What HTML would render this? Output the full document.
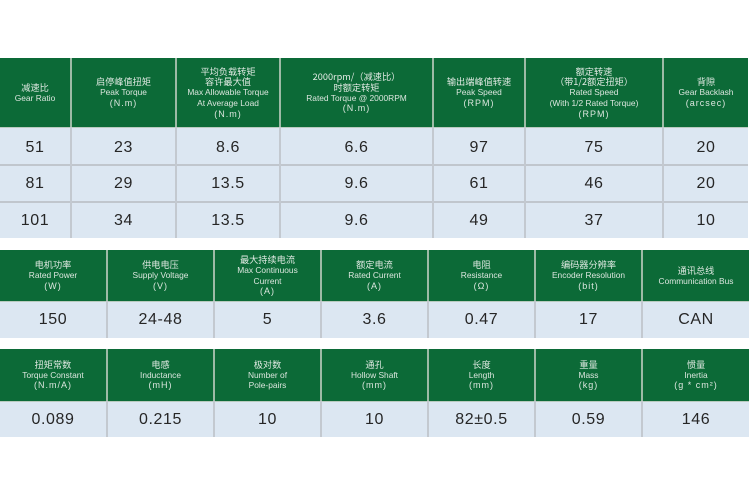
<!DOCTYPE html>
<html><head><meta charset="utf-8">
<style>
html,body{margin:0;padding:0;background:#fff;}
body{width:750px;height:500px;position:relative;overflow:hidden;font-family:"Liberation Sans","Noto Sans CJK SC",sans-serif;}
.g{position:absolute;background:#0c6a37;}
.b{position:absolute;background:#dce7f2;}
.vh{position:absolute;width:2px;background:#9dbba6;}
.vd{position:absolute;width:2px;background:#c3c9d0;}
.hd{position:absolute;height:1px;background:#c0c6cd;}
.h{position:absolute;display:flex;flex-direction:column;justify-content:center;align-items:center;text-align:center;color:#e4ede6;}
.h div{height:10.7px;line-height:10.7px;white-space:nowrap;overflow:visible;}
.h .c{font-size:9.2px;font-family:"Noto Sans CJK SC","WenQuanYi Zen Hei",sans-serif;color:#dfe9e2;}
.h .e{font-size:8.4px;color:#dbe6de;}
.h .u{font-size:9px;letter-spacing:1px;color:#dbe6de;}
.d{position:absolute;display:flex;justify-content:center;align-items:center;font-size:16px;letter-spacing:0.6px;color:#262626;}
</style></head><body>

<!-- TABLE 1 -->
<div class="g" style="left:0;top:58px;width:748px;height:69px"></div>
<div class="b" style="left:0;top:127px;width:748px;height:111px"></div>
<div class="hd" style="left:0;top:127px;width:748px;background:#b9cbbf"></div>
<div class="hd" style="left:0;top:164px;width:748px;height:2px"></div>
<div class="hd" style="left:0;top:201px;width:748px;height:2px"></div>
<div class="vh" style="left:70px;top:58px;height:69px"></div>
<div class="vh" style="left:175px;top:58px;height:69px"></div>
<div class="vh" style="left:279px;top:58px;height:69px"></div>
<div class="vh" style="left:432px;top:58px;height:69px"></div>
<div class="vh" style="left:524px;top:58px;height:69px"></div>
<div class="vh" style="left:662px;top:58px;height:69px"></div>
<div class="vd" style="left:70px;top:127px;height:111px"></div>
<div class="vd" style="left:175px;top:127px;height:111px"></div>
<div class="vd" style="left:279px;top:127px;height:111px"></div>
<div class="vd" style="left:432px;top:127px;height:111px"></div>
<div class="vd" style="left:524px;top:127px;height:111px"></div>
<div class="vd" style="left:662px;top:127px;height:111px"></div>

<div class="h" style="left:0;top:58px;width:70px;height:69px"><div class="c">减速比</div><div class="e">Gear Ratio</div></div>
<div class="h" style="left:72px;top:58px;width:103px;height:69px"><div class="c">启停峰值扭矩</div><div class="e">Peak Torque</div><div class="u">(N.m)</div></div>
<div class="h" style="left:177px;top:58px;width:102px;height:69px"><div class="c">平均负载转矩</div><div class="c">容许最大值</div><div class="e">Max Allowable Torque</div><div class="e">At Average Load</div><div class="u">(N.m)</div></div>
<div class="h" style="left:281px;top:58px;width:151px;height:69px"><div class="c">2000rpm/（减速比）</div><div class="c">时额定转矩</div><div class="e">Rated Torque @ 2000RPM</div><div class="u">(N.m)</div></div>
<div class="h" style="left:434px;top:58px;width:90px;height:69px"><div class="c">输出端峰值转速</div><div class="e">Peak Speed</div><div class="u">(RPM)</div></div>
<div class="h" style="left:526px;top:58px;width:136px;height:69px"><div class="c">额定转速</div><div class="c">（带1/2额定扭矩）</div><div class="e">Rated Speed</div><div class="e">(With 1/2 Rated Torque)</div><div class="u">(RPM)</div></div>
<div class="h" style="left:664px;top:58px;width:84px;height:69px"><div class="c">背隙</div><div class="e">Gear Backlash</div><div class="u">(arcsec)</div></div>

<!-- rows -->
<div class="d" style="left:0;top:129px;width:70px;height:37px">51</div>
<div class="d" style="left:72px;top:129px;width:103px;height:37px">23</div>
<div class="d" style="left:177px;top:129px;width:102px;height:37px">8.6</div>
<div class="d" style="left:281px;top:129px;width:151px;height:37px">6.6</div>
<div class="d" style="left:434px;top:129px;width:90px;height:37px">97</div>
<div class="d" style="left:526px;top:129px;width:136px;height:37px">75</div>
<div class="d" style="left:664px;top:129px;width:84px;height:37px">20</div>

<div class="d" style="left:0;top:166px;width:70px;height:36px">81</div>
<div class="d" style="left:72px;top:166px;width:103px;height:36px">29</div>
<div class="d" style="left:177px;top:166px;width:102px;height:36px">13.5</div>
<div class="d" style="left:281px;top:166px;width:151px;height:36px">9.6</div>
<div class="d" style="left:434px;top:166px;width:90px;height:36px">61</div>
<div class="d" style="left:526px;top:166px;width:136px;height:36px">46</div>
<div class="d" style="left:664px;top:166px;width:84px;height:36px">20</div>

<div class="d" style="left:0;top:203px;width:70px;height:36px">101</div>
<div class="d" style="left:72px;top:203px;width:103px;height:36px">34</div>
<div class="d" style="left:177px;top:203px;width:102px;height:36px">13.5</div>
<div class="d" style="left:281px;top:203px;width:151px;height:36px">9.6</div>
<div class="d" style="left:434px;top:203px;width:90px;height:36px">49</div>
<div class="d" style="left:526px;top:203px;width:136px;height:36px">37</div>
<div class="d" style="left:664px;top:203px;width:84px;height:36px">10</div>

<!-- TABLE 2 -->
<div class="g" style="left:0;top:250px;width:749px;height:51px"></div>
<div class="b" style="left:0;top:301px;width:749px;height:37px"></div>
<div class="hd" style="left:0;top:301px;width:749px;background:#b9cbbf"></div>
<div class="vh" style="left:106px;top:250px;height:51px"></div>
<div class="vh" style="left:213px;top:250px;height:51px"></div>
<div class="vh" style="left:320px;top:250px;height:51px"></div>
<div class="vh" style="left:427px;top:250px;height:51px"></div>
<div class="vh" style="left:534px;top:250px;height:51px"></div>
<div class="vh" style="left:641px;top:250px;height:51px"></div>
<div class="vd" style="left:106px;top:301px;height:37px"></div>
<div class="vd" style="left:213px;top:301px;height:37px"></div>
<div class="vd" style="left:320px;top:301px;height:37px"></div>
<div class="vd" style="left:427px;top:301px;height:37px"></div>
<div class="vd" style="left:534px;top:301px;height:37px"></div>
<div class="vd" style="left:641px;top:301px;height:37px"></div>

<div class="h" style="left:0;top:250px;width:106px;height:51px"><div class="c">电机功率</div><div class="e">Rated Power</div><div class="u">(W)</div></div>
<div class="h" style="left:108px;top:250px;width:105px;height:51px"><div class="c">供电电压</div><div class="e">Supply Voltage</div><div class="u">(V)</div></div>
<div class="h" style="left:215px;top:250px;width:105px;height:51px"><div class="c">最大持续电流</div><div class="e">Max Continuous</div><div class="e">Current</div><div class="u">(A)</div></div>
<div class="h" style="left:322px;top:250px;width:105px;height:51px"><div class="c">额定电流</div><div class="e">Rated Current</div><div class="u">(A)</div></div>
<div class="h" style="left:429px;top:250px;width:105px;height:51px"><div class="c">电阻</div><div class="e">Resistance</div><div class="u">(Ω)</div></div>
<div class="h" style="left:536px;top:250px;width:105px;height:51px"><div class="c">编码器分辨率</div><div class="e">Encoder Resolution</div><div class="u">(bit)</div></div>
<div class="h" style="left:643px;top:250px;width:106px;height:51px"><div class="c">通讯总线</div><div class="e">Communication Bus</div></div>

<div class="d" style="left:0;top:302px;width:106px;height:36px">150</div>
<div class="d" style="left:108px;top:302px;width:105px;height:36px">24-48</div>
<div class="d" style="left:215px;top:302px;width:105px;height:36px">5</div>
<div class="d" style="left:322px;top:302px;width:105px;height:36px">3.6</div>
<div class="d" style="left:429px;top:302px;width:105px;height:36px">0.47</div>
<div class="d" style="left:536px;top:302px;width:105px;height:36px">17</div>
<div class="d" style="left:643px;top:302px;width:106px;height:36px">CAN</div>

<!-- TABLE 3 -->
<div class="g" style="left:0;top:349px;width:749px;height:52px"></div>
<div class="b" style="left:0;top:401px;width:749px;height:36px"></div>
<div class="hd" style="left:0;top:401px;width:749px;background:#b9cbbf"></div>
<div class="vh" style="left:106px;top:349px;height:52px"></div>
<div class="vh" style="left:213px;top:349px;height:52px"></div>
<div class="vh" style="left:320px;top:349px;height:52px"></div>
<div class="vh" style="left:427px;top:349px;height:52px"></div>
<div class="vh" style="left:534px;top:349px;height:52px"></div>
<div class="vh" style="left:641px;top:349px;height:52px"></div>
<div class="vd" style="left:106px;top:401px;height:36px"></div>
<div class="vd" style="left:213px;top:401px;height:36px"></div>
<div class="vd" style="left:320px;top:401px;height:36px"></div>
<div class="vd" style="left:427px;top:401px;height:36px"></div>
<div class="vd" style="left:534px;top:401px;height:36px"></div>
<div class="vd" style="left:641px;top:401px;height:36px"></div>

<div class="h" style="left:0;top:349px;width:106px;height:52px"><div class="c">扭矩常数</div><div class="e">Torque Constant</div><div class="u">(N.m/A)</div></div>
<div class="h" style="left:108px;top:349px;width:105px;height:52px"><div class="c">电感</div><div class="e">Inductance</div><div class="u">(mH)</div></div>
<div class="h" style="left:215px;top:349px;width:105px;height:52px"><div class="c">极对数</div><div class="e">Number of</div><div class="e">Pole-pairs</div></div>
<div class="h" style="left:322px;top:349px;width:105px;height:52px"><div class="c">通孔</div><div class="e">Hollow Shaft</div><div class="u">(mm)</div></div>
<div class="h" style="left:429px;top:349px;width:105px;height:52px"><div class="c">长度</div><div class="e">Length</div><div class="u">(mm)</div></div>
<div class="h" style="left:536px;top:349px;width:105px;height:52px"><div class="c">重量</div><div class="e">Mass</div><div class="u">(kg)</div></div>
<div class="h" style="left:643px;top:349px;width:106px;height:52px"><div class="c">惯量</div><div class="e">Inertia</div><div class="u">(g * cm²)</div></div>

<div class="d" style="left:0;top:402px;width:106px;height:35px">0.089</div>
<div class="d" style="left:108px;top:402px;width:105px;height:35px">0.215</div>
<div class="d" style="left:215px;top:402px;width:105px;height:35px">10</div>
<div class="d" style="left:322px;top:402px;width:105px;height:35px">10</div>
<div class="d" style="left:429px;top:402px;width:105px;height:35px">82±0.5</div>
<div class="d" style="left:536px;top:402px;width:105px;height:35px">0.59</div>
<div class="d" style="left:643px;top:402px;width:106px;height:35px">146</div>

</body></html>
